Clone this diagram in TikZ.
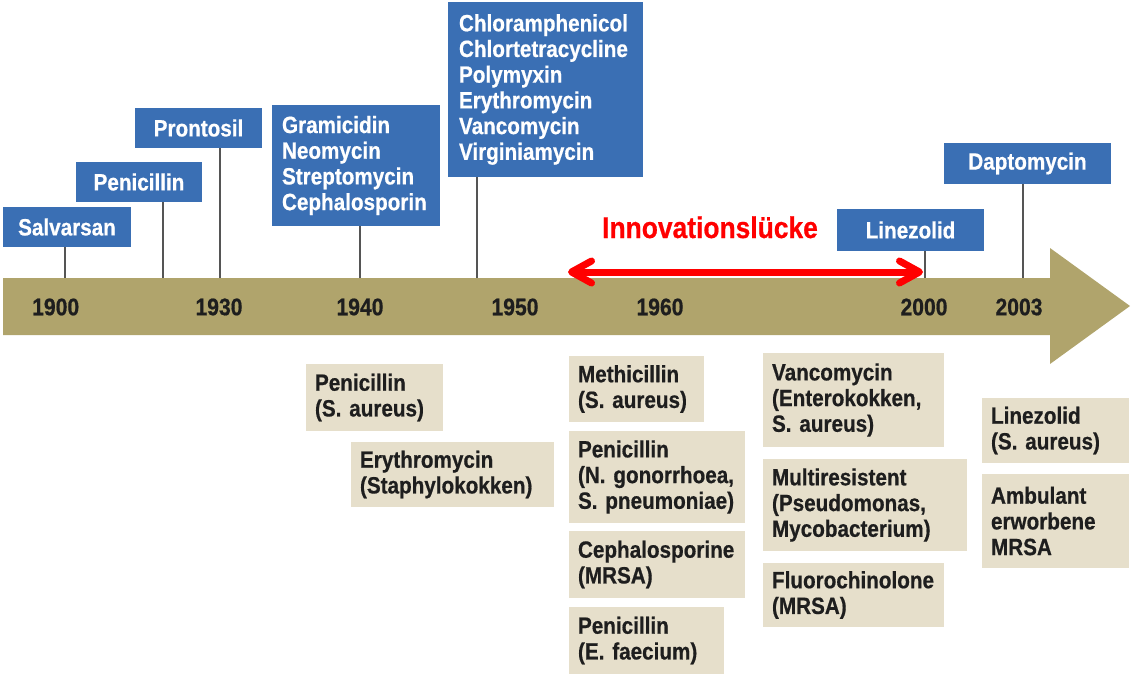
\documentclass[tikz,border=0pt]{standalone}
\usepackage{fontspec}
\setmainfont{Liberation Sans}[FakeStretch=0.88,FakeBold=0.6]
\usetikzlibrary{arrows.meta}
\definecolor{boxblue}{HTML}{3A6FB4}
\definecolor{bandcol}{HTML}{B0A46C}
\definecolor{beige}{HTML}{E6DFCB}
\definecolor{tickcol}{HTML}{555555}
\definecolor{ink}{HTML}{1E1E1E}
\begin{document}
\begin{tikzpicture}[x=1pt,y=-1pt,
  txt/.style={font=\fontsize{23.5pt}{25.7pt}\selectfont\bfseries},
  bbox/.style n args={2}{txt,fill=boxblue,text=white,minimum width=#1pt,minimum height=#2pt,inner sep=0pt},
  bmbox/.style n args={3}{bbox={#1}{#2},text width=#3pt,align=left},
  tbox/.style n args={3}{txt,fill=beige,text=ink,minimum width=#1pt,minimum height=#2pt,inner xsep=8pt,inner ysep=0pt,text width=#3pt,align=left},
  year/.style={font=\fontsize{24pt}{26pt}\selectfont\bfseries,text=ink,inner sep=0pt},
  tickline/.style={draw=tickcol,line width=2pt},
  gap/.style={draw=red,line width=7pt,<->,>={Straight Barb[round,length=20pt,width=22pt]}}
]
\useasboundingbox (0,0) rectangle (1131,674);

% timeline band
\fill[bandcol] (3,278) -- (1050,278) -- (1050,248) -- (1130,306) -- (1050,364) -- (1050,335) -- (3,335) -- cycle;

% tick coordinates on band top
\coordinate (t1) at (65,278);
\coordinate (t2) at (163,278);
\coordinate (t3) at (220,278);
\coordinate (t4) at (360,278);
\coordinate (t5) at (477,278);
\coordinate (t6) at (925,278);
\coordinate (t7) at (1023,278);

% blue boxes
\node[bbox={128}{40}] (salv) at (67,227) {Salvarsan};
\node[bbox={126}{40}] (peni) at (139,182) {Penicillin};
\node[bbox={127}{40}] (pront) at (198.5,128) {Prontosil};
\node[bmbox={168}{121}{148}] (grami) at (356,165.5) {Gramicidin\\Neomycin\\Streptomycin\\Cephalosporin};
\node[bmbox={195}{175}{173}] (chlor) at (545.5,89.5) {Chloramphenicol\\Chlortetracycline\\Polymyxin\\Erythromycin\\Vancomycin\\Virginiamycin};
\node[bbox={147}{42}] (linez) at (910.5,230) {Linezolid};
\node[bbox={167}{41}] (dapto) at (1027.5,163.5) {Daptomycin};

% connectors
\draw[tickline] (salv.south -| t1) -- (t1);
\draw[tickline] (peni.south -| t2) -- (t2);
\draw[tickline] (pront.south -| t3) -- (t3);
\draw[tickline] (grami.south -| t4) -- (t4);
\draw[tickline] (chlor.south -| t5) -- (t5);
\draw[tickline] (linez.south -| t6) -- (t6);
\draw[tickline] (dapto.south -| t7) -- (t7);

% years
\node[year] (y1900) at (55.7,307) {1900};
\node[year] (y1930) at (219,307) {1930};
\node[year] (y1940) at (360,307) {1940};
\node[year] (y1950) at (515,307) {1950};
\node[year] (y1960) at (660,307) {1960};
\node[year] (y2000) at (924,307) {2000};
\node[year] (y2003) at (1019,307) {2003};

% innovation gap
\node[font=\fontsize{30pt}{32pt}\selectfont\bfseries,text=red,anchor=base,inner sep=0pt] (innov) at (710,238) {Innovationslücke};
\coordinate (gapL) at (568,272);
\coordinate (gapR) at (923,272);
\draw[gap] (gapL) -- (gapR);

% resistance boxes
\node[tbox={137}{67}{119}] (r1) at (374.5,397.5) {Penicillin\\(S. aureus)};
\node[tbox={203}{65}{185}] (r2) at (452.5,474.5) {Erythromycin\\(Staphylokokken)};
\node[tbox={135}{66}{117}] (r3) at (636.5,389) {Methicillin\\(S. aureus)};
\node[tbox={176}{92}{158}] (r4) at (657,477) {Penicillin\\(N. gonorrhoea,\\S. pneumoniae)};
\node[tbox={176}{67}{158}] (r5) at (657,564.5) {Cephalosporine\\(MRSA)};
\node[tbox={155}{67}{137}] (r6) at (646.5,640.5) {Penicillin\\(E. faecium)};
\node[tbox={181}{94}{163}] (r7) at (853.5,400) {Vancomycin\\(Enterokokken,\\S. aureus)};
\node[tbox={204}{92}{186}] (r8) at (865,505) {Multiresistent\\(Pseudomonas,\\Mycobacterium)};
\node[tbox={181}{64}{163}] (r9) at (853.5,595) {Fluorochinolone\\(MRSA)};
\node[tbox={147}{65}{129}] (r10) at (1055.5,430.5) {Linezolid\\(S. aureus)};
\node[tbox={147}{94}{129}] (r11) at (1055.5,521) {Ambulant\\erworbene\\MRSA};
\end{tikzpicture}
\end{document}
